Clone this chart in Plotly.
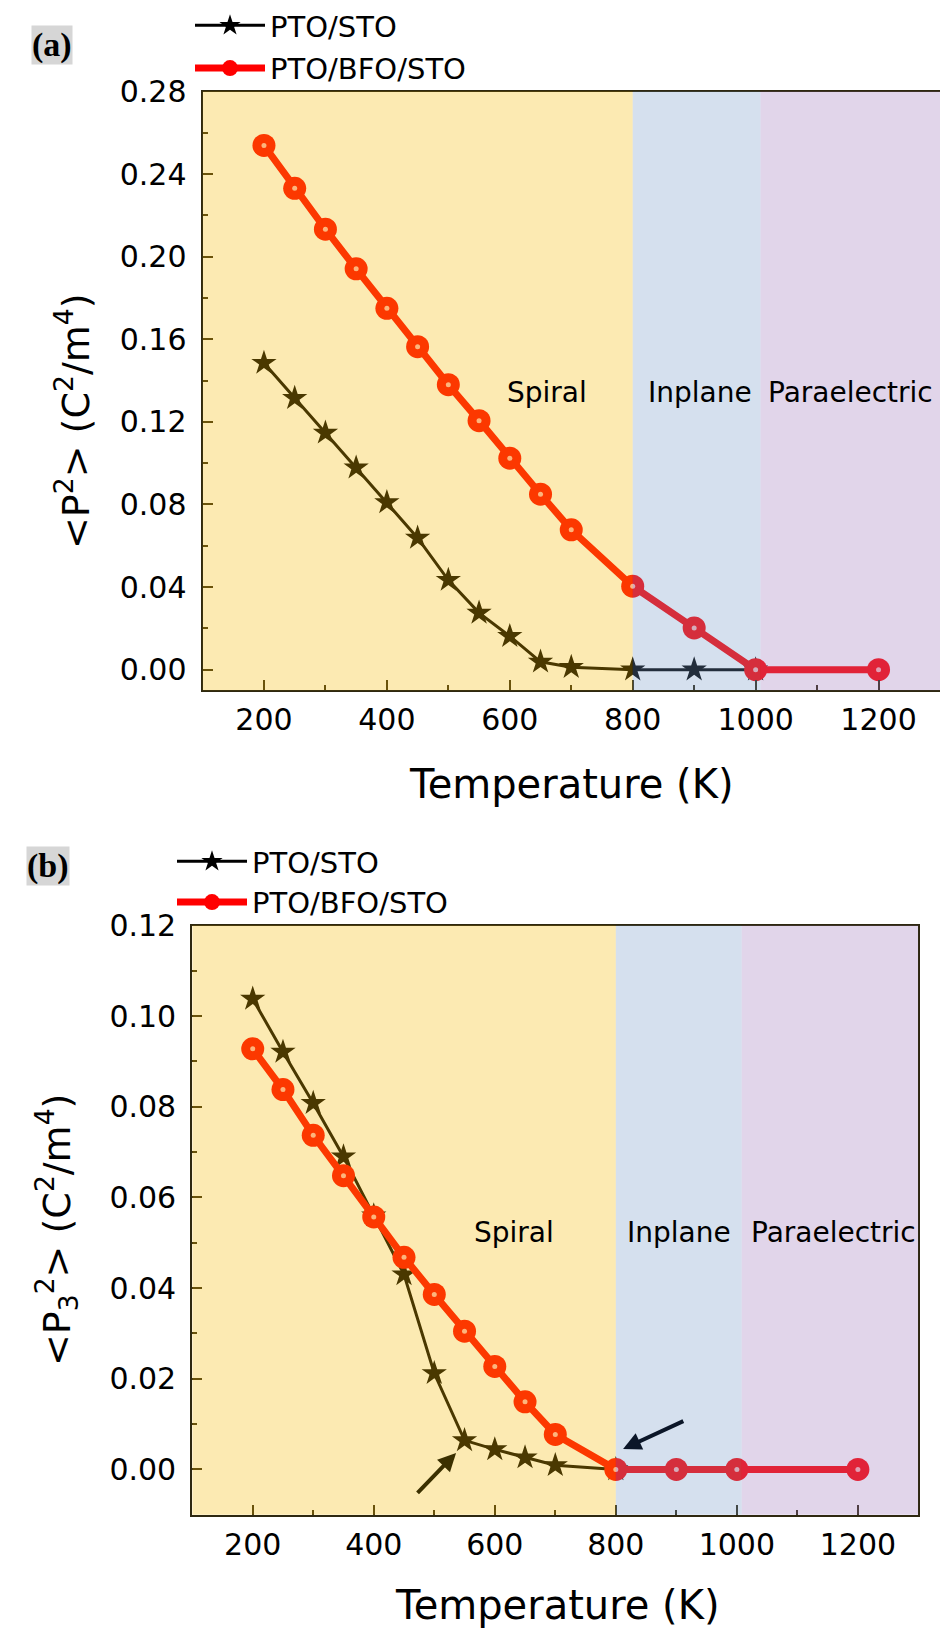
import plotly.graph_objects as go

# ---------------- data ----------------
temps_sto_a = [200, 250, 300, 350, 400, 450, 500, 550, 600, 650, 700, 800, 900, 1000]
p2_sto = [0.1485, 0.1315, 0.1147, 0.0978, 0.0810, 0.0638, 0.0434, 0.0275, 0.0162,
          0.0038, 0.0012, 0.0, 0.0, 0.0]
temps_bfo_a = [200, 250, 300, 350, 400, 450, 500, 550, 600, 650, 700, 800, 900, 1000, 1200]
p2_bfo = [0.2539, 0.2331, 0.2133, 0.1941, 0.1750, 0.1564, 0.1380, 0.1206, 0.1024,
          0.0850, 0.0677, 0.0404, 0.0202, 0.0, 0.0]

temps_sto_b = [200, 250, 300, 350, 400, 450, 500, 550, 600, 650, 700, 800]
p32_sto = [0.1038, 0.0921, 0.0808, 0.0690, 0.0560, 0.0430, 0.0212, 0.0064, 0.0044,
           0.0026, 0.0009, 0.0]
temps_bfo_b = [200, 250, 300, 350, 400, 450, 500, 550, 600, 650, 700, 800, 900, 1000, 1200]
p32_bfo = [0.0928, 0.0838, 0.0737, 0.0648, 0.0557, 0.0468, 0.0386, 0.0305, 0.0227,
           0.0149, 0.0077, 0.0, 0.0, 0.0, 0.0]

phase_names = ["Spiral", "Inplane", "Paraelectric"]
phase_bounds = [100, 800, 1008, 1300]
phase_label_x_a = [660, 910, 1154]
phase_label_y_a = 0.134
phase_label_x_b = [632, 904, 1160]
phase_label_y_b = 0.0523

x_ticks = [200, 400, 600, 800, 1000, 1200]
x_minor_ticks = [300, 500, 700, 900, 1100]

FONT = "DejaVu Sans"
STO_COLOR = "#000000"
BFO_COLOR = "#ff0000"
phase_fill = ["rgba(245,185,0,0.30)", "rgba(115,152,198,0.30)", "rgba(155,115,185,0.30)"]
frame_color = "#2e2810"

W, H = 940, 1631


def px_x(p):
    return p / W


def px_y(p):
    return (H - p) / H


fig = go.Figure()


def add_panel(xs_sto, ys_sto, xs_bfo, ys_bfo, xa, ya, legend, grouped):
    fig.add_trace(go.Scatter(
        x=xs_sto, y=ys_sto, name="PTO/STO", mode="lines+markers",
        line=dict(color=STO_COLOR, width=3),
        marker=dict(symbol="star", size=19, color=STO_COLOR),
        legendgroup=(legend + "g1") if grouped else None,
        xaxis=xa, yaxis=ya, legend=legend, hoverinfo="skip"))
    fig.add_trace(go.Scatter(
        x=xs_bfo, y=ys_bfo, name="PTO/BFO/STO", mode="lines+markers",
        line=dict(color=BFO_COLOR, width=7),
        marker=dict(symbol="circle", size=23, color=BFO_COLOR, line=dict(width=0)),
        legendgroup=(legend + "g2") if grouped else None,
        xaxis=xa, yaxis=ya, legend=legend, hoverinfo="skip"))
    # specular highlight on the spheres
    fig.add_trace(go.Scatter(
        x=xs_bfo, y=ys_bfo, mode="markers", showlegend=False,
        marker=dict(symbol="circle", size=5, color="rgba(255,210,210,0.85)"),
        xaxis=xa, yaxis=ya, hoverinfo="skip"))


add_panel(temps_sto_a, p2_sto, temps_bfo_a, p2_bfo, "x", "y", "legend", True)
add_panel(temps_sto_b, p32_sto, temps_bfo_b, p32_bfo, "x2", "y2", "legend2", False)

# phase regions (drawn over the data, translucent, like the original)
shapes = []
for xr, yr in (("x", "y domain"), ("x2", "y2 domain")):
    for i in range(3):
        shapes.append(dict(type="rect", xref=xr, yref=yr,
                           x0=phase_bounds[i], x1=phase_bounds[i + 1], y0=0, y1=1,
                           fillcolor=phase_fill[i], line=dict(width=0), layer="above"))

annotations = []
for i, name in enumerate(phase_names):
    annotations.append(dict(x=phase_label_x_a[i], y=phase_label_y_a, xref="x", yref="y",
                            text=name, showarrow=False,
                            font=dict(family=FONT, size=28, color="#000")))
    annotations.append(dict(x=phase_label_x_b[i], y=phase_label_y_b, xref="x2", yref="y2",
                            text=name, showarrow=False,
                            font=dict(family=FONT, size=28, color="#000")))

# arrows in panel (b)
annotations.append(dict(x=536, y=0.0036, ax=470, ay=-0.0055, xref="x2", yref="y2",
                        axref="x2", ayref="y2", showarrow=True, arrowhead=2,
                        arrowsize=0.9, arrowwidth=4, arrowcolor="#3b3000", text=""))
annotations.append(dict(x=812, y=0.0045, ax=914, ay=0.0108, xref="x2", yref="y2",
                        axref="x2", ayref="y2", showarrow=True, arrowhead=2,
                        arrowsize=0.9, arrowwidth=4, arrowcolor="#0b1628", text=""))

# axis titles and panel labels
annotations += [
    dict(x=px_x(571), y=px_y(784), xref="paper", yref="paper",
         text="Temperature (K)", showarrow=False, xanchor="center", yanchor="middle",
         font=dict(family=FONT, size=40, color="#000")),
    dict(x=px_x(557), y=px_y(1605), xref="paper", yref="paper",
         text="Temperature (K)", showarrow=False, xanchor="center", yanchor="middle",
         font=dict(family=FONT, size=40, color="#000")),
    dict(x=px_x(73), y=px_y(422), xref="paper", yref="paper",
         text="&lt;P<sup>2</sup>&gt; (C<sup>2</sup>/m<sup>4</sup>)", textangle=-90,
         showarrow=False, xanchor="center", yanchor="middle",
         font=dict(family=FONT, size=38, color="#000")),
    dict(x=px_x(56), y=px_y(1230), xref="paper", yref="paper",
         text="&lt;P<sub>3</sub><sup>2</sup>&gt; (C<sup>2</sup>/m<sup>4</sup>)", textangle=-90,
         showarrow=False, xanchor="center", yanchor="middle",
         font=dict(family=FONT, size=38, color="#000")),
    dict(x=px_x(52), y=px_y(45), xref="paper", yref="paper",
         text="<b>(a)</b>", showarrow=False, xanchor="center", yanchor="middle",
         bgcolor="#d6d6d6", borderpad=0,
         font=dict(family="Liberation Serif", size=34, color="#000")),
    dict(x=px_x(48), y=px_y(866), xref="paper", yref="paper",
         text="<b>(b)</b>", showarrow=False, xanchor="center", yanchor="middle",
         bgcolor="#d6d6d6", borderpad=0,
         font=dict(family="Liberation Serif", size=34, color="#000")),
]


def xaxis_cfg(domain, anchor):
    return dict(domain=domain, anchor=anchor, range=[100, 1300], tickvals=x_ticks,
                ticks="inside", ticklen=10, tickwidth=2, tickcolor=frame_color,
                minor=dict(ticks="inside", ticklen=5, tickwidth=2, tickcolor=frame_color,
                           tickvals=x_minor_ticks),
                showline=True, linecolor=frame_color, linewidth=2, mirror=True,
                showgrid=False, zeroline=False, ticklabelstandoff=2, automargin=False,
                tickfont=dict(family=FONT, size=30, color="#000"))


def yaxis_cfg(domain, anchor, rng, dtick):
    return dict(domain=domain, anchor=anchor, range=rng, dtick=dtick, tick0=0,
                tickformat=".2f", ticks="inside", ticklen=10, tickwidth=2,
                tickcolor=frame_color,
                minor=dict(ticks="inside", ticklen=5, tickwidth=2, tickcolor=frame_color,
                           dtick=dtick / 2, tick0=0),
                showline=True, linecolor=frame_color, linewidth=2, mirror=True,
                showgrid=False, zeroline=False, ticklabelstandoff=8, automargin=False,
                tickfont=dict(family=FONT, size=30, color="#000"))


fig.update_layout(
    width=W, height=H, autosize=False,
    margin=dict(l=0, r=0, t=0, b=0, pad=0),
    paper_bgcolor="white", plot_bgcolor="white",
    font=dict(family=FONT, color="#000"),
    xaxis=xaxis_cfg([px_x(202.5), 1.0], "y"),
    yaxis=yaxis_cfg([px_y(690.3), px_y(91.5)], "x", [-0.01, 0.28], 0.04),
    xaxis2=xaxis_cfg([px_x(192.2), px_x(918.4)], "y2"),
    yaxis2=yaxis_cfg([px_y(1514.7), px_y(925.5)], "x2", [-0.01, 0.12], 0.02),
    legend=dict(x=px_x(190), y=1.0, xanchor="left", yanchor="top",
                bgcolor="rgba(0,0,0,0)", itemwidth=70, tracegroupgap=2,
                font=dict(family=FONT, size=29, color="#000")),
    legend2=dict(x=px_x(172), y=px_y(836), xanchor="left", yanchor="top",
                 bgcolor="rgba(0,0,0,0)", itemwidth=70, tracegroupgap=0,
                 font=dict(family=FONT, size=29, color="#000")),
    shapes=shapes,
    annotations=annotations,
    showlegend=True,
)

fig.write_html(
    "out.html",
    config={"displayModeBar": False},
    post_script="document.documentElement.style.margin='0px';"
                "document.body.style.margin='0px';document.body.style.padding='0px';"
                "document.body.style.overflow='hidden';",
)
